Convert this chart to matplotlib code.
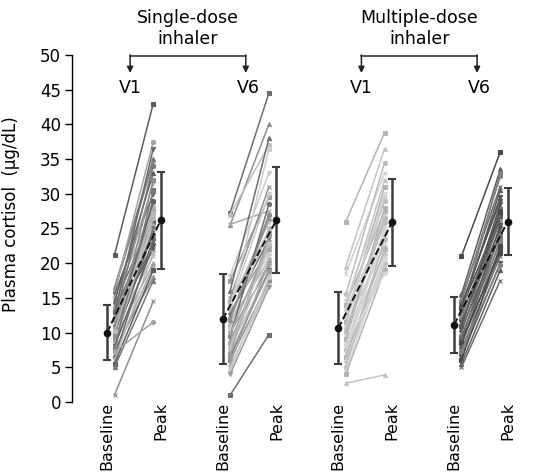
import matplotlib
matplotlib.use("Agg")
import matplotlib.pyplot as plt
import numpy as np

plt.rcParams['font.family'] = ['DejaVu Sans']

# individual subjects, baseline -> peak (ug/dL)
sd_v1_base = [21.2, 16.5, 16.0, 15.8, 15.5, 15.0, 14.5, 14.0, 13.5, 13.2, 13.0, 12.5,
              12.0, 11.8, 11.5, 11.0, 10.8, 10.5, 10.0, 9.8, 9.5, 9.0, 8.8, 8.5,
              8.0, 7.8, 7.5, 7.0, 6.5, 6.0, 5.5, 5.0, 1.0, 7.2, 12.8, 10.2]
sd_v1_peak = [43.0, 35.0, 34.5, 37.5, 30.0, 28.0, 33.0, 27.0, 24.0, 31.5, 26.0, 25.5,
              22.0, 34.0, 28.5, 27.5, 23.0, 21.0, 29.0, 25.0, 32.0, 20.0, 24.5, 26.5,
              22.5, 30.5, 18.0, 19.5, 23.5, 21.5, 19.0, 17.5, 14.5, 11.5, 36.5, 27.2]

sd_v6_base = [27.3, 25.5, 25.6, 27.0, 18.2, 17.5, 16.0, 15.0, 14.5, 14.0, 13.5, 13.0,
              12.5, 12.0, 11.5, 11.0, 10.5, 10.0, 9.5, 9.0, 8.5, 8.0, 7.5, 7.0,
              6.5, 6.0, 5.5, 5.0, 4.5, 4.0, 1.0, 11.8, 9.8, 7.8, 13.8, 6.8]
sd_v6_peak = [44.5, 40.0, 27.5, 37.0, 33.0, 29.5, 38.0, 31.0, 24.5, 26.0, 36.5, 22.0,
              23.5, 27.0, 20.5, 25.0, 21.5, 19.5, 28.5, 20.0, 22.5, 18.5, 21.0, 24.0,
              19.0, 17.5, 20.2, 17.0, 18.0, 16.5, 9.7, 26.5, 23.0, 22.8, 30.0, 18.8]

md_v1_base = [26.0, 19.5, 18.5, 15.5, 14.5, 14.0, 13.5, 13.0, 12.5, 12.0, 11.5, 11.0,
              10.5, 10.0, 9.5, 9.0, 8.5, 8.0, 7.5, 7.0, 6.5, 6.0, 5.5, 5.0,
              4.5, 4.0, 2.7, 12.2, 10.2, 8.2]
md_v1_peak = [38.8, 36.5, 33.0, 34.5, 30.0, 27.5, 32.0, 25.5, 29.0, 24.0, 31.0, 22.5,
              27.0, 26.0, 23.0, 28.0, 21.5, 25.0, 20.0, 24.5, 22.0, 19.5, 21.0, 23.5,
              20.5, 19.0, 3.9, 29.5, 26.5, 18.5]

md_v6_base = [21.0, 15.5, 15.0, 14.5, 14.0, 13.5, 13.0, 12.5, 12.0, 11.5, 11.0, 10.5,
              10.0, 9.5, 9.0, 8.5, 8.0, 7.5, 7.0, 6.5, 6.0, 5.5, 5.0, 12.8,
              10.8, 8.8, 11.3, 9.2, 7.3, 13.7]
md_v6_peak = [36.0, 33.5, 31.0, 32.5, 29.0, 27.0, 30.5, 26.0, 28.0, 25.0, 27.5, 24.0,
              26.5, 23.0, 25.5, 22.0, 24.5, 21.0, 23.5, 20.0, 22.5, 19.0, 17.5, 33.0,
              28.5, 21.5, 26.8, 24.2, 19.8, 29.5]

# mean and SD bars
base_mean = [10.0, 11.9, 10.6, 11.1]
base_sd = [3.9, 6.5, 5.2, 4.0]
peak_mean = [26.2, 26.2, 25.9, 26.0]
peak_sd = [7.0, 7.6, 6.3, 4.8]

groups = [(sd_v1_base, sd_v1_peak), (sd_v6_base, sd_v6_peak),
          (md_v1_base, md_v1_peak), (md_v6_base, md_v6_peak)]
visits = ["V1", "V6", "V1", "V6"]
inhalers = ["Single-dose\ninhaler", "Multiple-dose\ninhaler"]
xticklabels = ["Baseline", "Peak"] * 4

palettes = [["#5c5c5c", "#787878", "#8e8e8e", "#a4a4a4", "#6a6a6a", "#b8b8b8"],
            ["#6e6e6e", "#909090", "#a8a8a8", "#bebebe", "#cccccc", "#9c9c9c"],
            ["#b4b4b4", "#c4c4c4", "#cfcfcf", "#bcbcbc", "#d6d6d6"],
            ["#4a4a4a", "#5e5e5e", "#6e6e6e", "#808080", "#555555"]]
markers = ["s", "^", "x", "o", "v"]

fig = plt.figure(figsize=(5.33, 4.74), dpi=100)
ax = fig.add_axes([0.1351, 0.152, 0.85, 0.732])

for g, (b, p) in enumerate(groups):
    x0 = 2 * g
    pal = palettes[g]
    for i in range(len(b)):
        c = pal[i % len(pal)]
        m = markers[i % len(markers)]
        ax.plot([x0 + 0.13, x0 + 0.8], [b[i], p[i]], color=c, lw=1.1,
                marker=m, ms=3, mew=0.8, clip_on=False, zorder=2)
    ax.plot([x0, x0 + 0.93], [base_mean[g], peak_mean[g]], color="#111111",
            ls="--", lw=1.4, zorder=4)
    ax.errorbar([x0, x0 + 0.93], [base_mean[g], peak_mean[g]],
                yerr=[base_sd[g], peak_sd[g]], fmt="o", color="#111111",
                ecolor="#3c3c3c", elinewidth=1.8, capsize=3, capthick=1.5,
                ms=4.5, zorder=5)

ax.set_xlim(-0.605, 7.23)
ax.set_ylim(0, 50)
ax.set_yticks(np.arange(0, 51, 5))
ax.set_xticks([2 * g + d for g in range(4) for d in (0, 0.93)])
ax.set_xticklabels(xticklabels, rotation=90, fontsize=11.5)
ax.tick_params(axis="x", length=0, pad=0)
ax.tick_params(axis="y", labelsize=12, length=5, width=1, direction="out", pad=3)
for s in ["top", "right", "bottom"]:
    ax.spines[s].set_visible(False)
ax.spines["left"].set_linewidth(1)
ax.set_ylabel("Plasma cortisol  (μg/dL)", fontsize=12)
ax.yaxis.set_label_coords(-0.115, 0.54)

# brackets over the visits
for k in range(2):
    xa = 4 * k + 0.4
    xb = 4 * k + 2.4
    ax.plot([xa, xb], [49.9, 49.9], color="#222222", lw=1.1, clip_on=False)
    for xx in (xa, xb):
        ax.annotate("", xy=(xx, 47.4), xytext=(xx, 50.0),
                    arrowprops=dict(arrowstyle="-|>", color="#222222", lw=1.1,
                                    mutation_scale=9, shrinkA=0, shrinkB=0),
                    annotation_clip=False)
    ax.text((xa + xb) / 2, 51.0, inhalers[k], ha="center", va="bottom",
            fontsize=12.5, linespacing=1.2)
for g in range(4):
    ax.text(2 * g + 0.4 + (0.04 if g % 2 else 0), 45.2, visits[g], ha="center",
            va="center", fontsize=12.5)

fig.savefig("out.png", dpi=100)
